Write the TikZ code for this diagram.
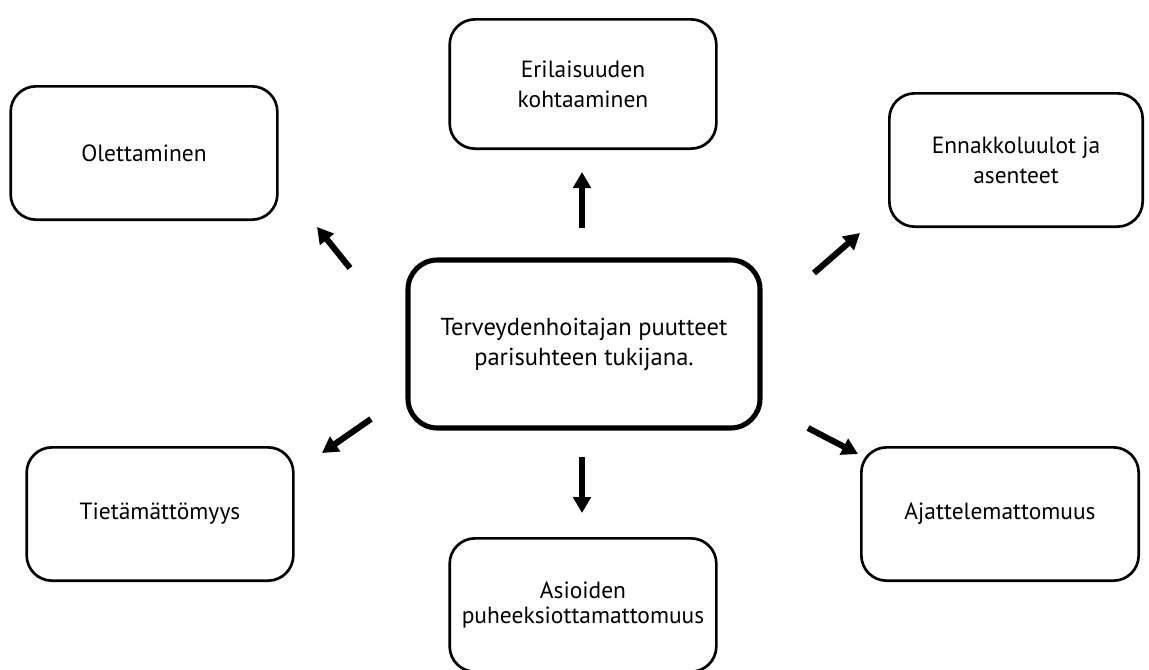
\documentclass[tikz,border=0pt]{standalone}
\usepackage{fontspec}
\setmainfont{PT Sans}
\usetikzlibrary{arrows.meta, calc}

\begin{document}
\begin{tikzpicture}[x=0.75pt, y=-0.75pt]
    \def\txtsize{\fontsize{17.6}{22.5}\selectfont}
    \def\boxW{200pt}
    \def\boxH{100pt}

    \tikzstyle{topic} = [draw, line width=2pt, rounded corners=19pt, align=center, minimum width=\boxW, minimum height=\boxH, font=\txtsize]
    \tikzstyle{core} = [draw, line width=3.8pt, rounded corners=22pt, align=center, minimum width=264pt, minimum height=126pt, font=\fontsize{18.4}{22.5}\selectfont]
    \tikzstyle{pointer} = [line width=4.6pt, -{Triangle[width=13pt, length=12pt]}]

    \useasboundingbox (0,0) rectangle (1149,669);
    \clip (0,0) rectangle (1149,669);

    \node (core) [core] at (584,344) {Terveydenhoitajan puutteet\\parisuhteen tukijana.};

    \node (olet) [topic] at (144,153) {Olettaminen};
    \node (eril) [topic, minimum height=97pt] at (583,84) {Erilaisuuden\\kohtaaminen};
    \node (enna) [topic, minimum width=190pt] at (1016,160) {Ennakkoluulot ja\\asenteet};
    \node (tiet) [topic] at (160,514) {Tietämättömyys};
    \node (asio) [topic, font=\fontsize{17.6}{19}\selectfont] at (583,605) {Asioiden\\puheeksiottamattomuus};
    \node (ajat) [topic, minimum width=208pt] at (1000,514) {Ajattelemattomuus};

    % arrow ends, the arrows do not touch the boxes
    \coordinate (olet-from) at (350,268);
    \coordinate (olet-to) at (317,227);
    \coordinate (eril-from) at (582,228);
    \coordinate (eril-to) at (582,172);
    \coordinate (enna-from) at (814,273);
    \coordinate (enna-to) at (860,233);
    \coordinate (tiet-from) at (371,419);
    \coordinate (tiet-to) at (322,453);
    \coordinate (asio-from) at (582,457);
    \coordinate (asio-to) at (582,513);
    \coordinate (ajat-from) at (808,428);
    \coordinate (ajat-to) at (858,454);

    \foreach \t in {olet,eril,enna,tiet,asio,ajat} {
        \draw [pointer] (\t-from) -- (\t-to);
    }
\end{tikzpicture}
\end{document}
